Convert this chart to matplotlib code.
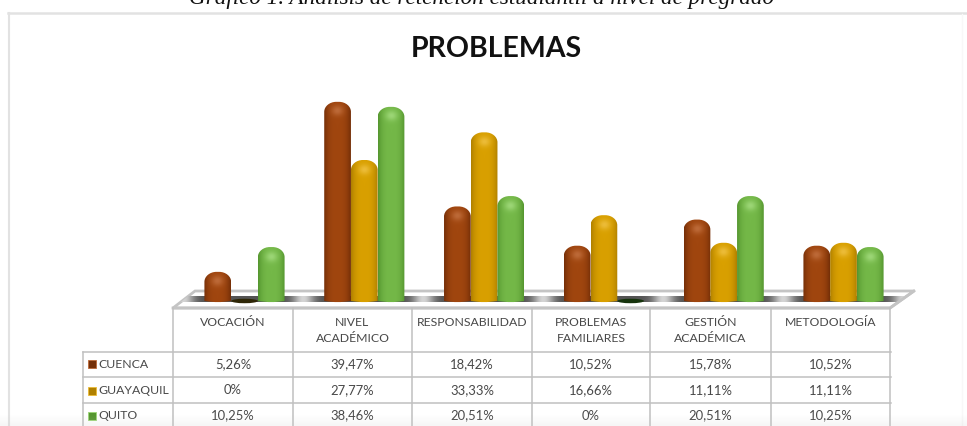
import numpy as np
import matplotlib
matplotlib.use("Agg")
import matplotlib.pyplot as plt
from matplotlib.colors import to_rgb
from matplotlib.patches import Ellipse, PathPatch, Polygon, Rectangle
from matplotlib.path import Path

plt.rcParams['font.family'] = ['Lato', 'DejaVu Sans']

categories = ["VOCACIÓN", "NIVEL\nACADÉMICO", "RESPONSABILIDAD",
              "PROBLEMAS\nFAMILIARES", "GESTIÓN\nACADÉMICA", "METODOLOGÍA"]
series_names = ["CUENCA", "GUAYAQUIL", "QUITO"]
cuenca = [5.26, 39.47, 18.42, 10.52, 15.78, 10.52]
guayaquil = [0, 27.77, 33.33, 16.66, 11.11, 11.11]
quito = [10.25, 38.46, 20.51, 0, 20.51, 10.25]

W, H = 967, 426
GRID = "#c0c0c0"
TEXT = "#484848"

# (edge, middle, highlight) of each cylinder
bar_colors = [("#752f08", "#a0460f", "#bd6a38"),
              ("#b08000", "#d9a000", "#ecbc38"),
              ("#55962f", "#74b848", "#9cd676")]
zero_colors = ["#2e2606", "#2e2606", "#16330c"]


def label(v):
    if v == 0:
        return "0%"
    return f"{v:.2f}%".replace(".", ",")


def bar_path(ax, x0, x1, top):
    # rounded top and bottom, radius given in pixels
    sy = ax.transData.transform((0, 1))[1] - ax.transData.transform((0, 0))[1]
    rx = (x1 - x0) * 0.45
    ry = 10 / sy
    low = -0.6
    ly = 1.5 / sy
    k = 0.55
    verts = [(x0, low), (x0, top - ry),
             (x0, top - ry + k * ry), (x0 + rx - k * rx, top), (x0 + rx, top),
             (x1 - rx, top),
             (x1 - rx + k * rx, top), (x1, top - ry + k * ry), (x1, top - ry),
             (x1, low),
             (x1 - rx, low - ly), (x0 + rx, low - ly), (x0, low),
             (x0, low)]
    codes = [Path.MOVETO, Path.LINETO,
             Path.CURVE4, Path.CURVE4, Path.CURVE4,
             Path.LINETO,
             Path.CURVE4, Path.CURVE4, Path.CURVE4,
             Path.LINETO,
             Path.CURVE4, Path.CURVE4, Path.CURVE4,
             Path.CLOSEPOLY]
    return Path(verts, codes)


def cylinder_image(colors, n_rows):
    # side to side shading, with a soft light spot near the top
    edge, mid, light = [np.array(to_rgb(c)) for c in colors]
    u = np.linspace(-1, 1, 40)
    t = (1 - np.abs(u) ** 3)[None, :, None]
    img = np.ones((n_rows, 40, 3)) * (edge + (mid - edge) * t)
    rows = np.arange(n_rows)[:, None]
    spot = np.exp(-((rows - 9) / 5.0) ** 2 - (u[None, :] / 0.45) ** 2)[:, :, None]
    return np.clip(img + (light - img) * spot, 0, 1)


fig = plt.figure(figsize=(W / 100, H / 100), dpi=100)

# full figure axes in pixels for frame, floor and table
ax_px = fig.add_axes([0, 0, 1, 1])
ax_px.set_xlim(0, W)
ax_px.set_ylim(H, 0)
ax_px.axis("off")

# frame
ax_px.plot([8, W], [13, 13], color="#e2e2e2", lw=1.8)
ax_px.plot([9, 9], [13, H], color="#e2e2e2", lw=1.5)
ax_px.plot([962, 962], [14, H], color="#f8f8f8", lw=1)

# caption, cut by the top edge like the source
ax_px.text(482, 4, "Gráfico 1. Análisis de retención estudiantil a nivel de pregrado",
           family="Liberation Serif", style="italic", fontsize=16.7, color="#111111",
           ha="center", va="baseline")
ax_px.text(496, 49, "PROBLEMAS", fontsize=20.5, fontweight="bold", color="#111111",
           ha="center", va="center")

# floor of the 3D chart
floor = Polygon([(173, 308), (195, 291), (914, 291), (890, 308)], closed=True,
                facecolor="white", edgecolor="#c4c4c4", lw=2, zorder=1)
ax_px.add_patch(floor)
xs = np.arange(173, 915)
# dark band with a light streak ahead of every group
shade = 0.33 + 0.5 * np.exp(-(((xs - 303 + 60) % 120 - 60) / 11.0) ** 2)
strip = ax_px.imshow(shade[None, :], extent=(173, 915, 302.5, 297), cmap="gray",
                     vmin=0, vmax=1, aspect="auto", interpolation="bilinear", zorder=2)
strip.set_clip_path(floor)
ax_px.plot([173, 890, 914], [308, 308, 291], color="#c4c4c4", lw=2, zorder=3)
ax_px.set_xlim(0, W)
ax_px.set_ylim(H, 0)

# table
col_edges = [173, 293, 412, 532, 650, 771, 890]
row_y = [308, 352, 377, 403]
for y in row_y[1:]:
    ax_px.plot([83, 891], [y, y], color=GRID, lw=1.1, zorder=3)
for x in col_edges:
    ax_px.plot([x, x], [308, H], color=GRID, lw=1.1, zorder=3)
ax_px.plot([83, 83], [352, H], color=GRID, lw=1.1, zorder=3)

for i, cat in enumerate(categories):
    xc = (col_edges[i] + col_edges[i + 1]) / 2
    ax_px.text(xc, 317, cat, fontsize=8.8, color=TEXT, ha="center", va="top",
               linespacing=1.6, zorder=4)

row_text_y = [364, 390.5, 415.5]
all_series = [cuenca, guayaquil, quito]
for r, vals in enumerate(all_series):
    ax_px.add_patch(Rectangle((88, row_text_y[r] - 4), 8, 8, facecolor=bar_colors[r][0],
                              edgecolor=bar_colors[r][2], lw=0.6, zorder=4))
    ax_px.text(98, row_text_y[r], series_names[r], fontsize=8.8, color=TEXT,
               ha="left", va="center", zorder=4)
    for i, v in enumerate(vals):
        xc = (col_edges[i] + col_edges[i + 1]) / 2
        ax_px.text(xc, row_text_y[r], label(v), fontsize=9.4, color=TEXT,
                   ha="center", va="center", zorder=4)

# bars on their own axes: category units across, percent up
PX_PER_CAT = 119.8
PX_PER_PCT = 4.97
X0_PX, Y0_PX = 244.5, 298
left_px, right_px = 172, 890
y_min, y_max = -2, 42
bottom_px = Y0_PX - y_min * PX_PER_PCT
top_px = Y0_PX - y_max * PX_PER_PCT
ax = fig.add_axes([left_px / W, 1 - bottom_px / H,
                   (right_px - left_px) / W, (bottom_px - top_px) / H])
ax.patch.set_alpha(0)
ax.axis("off")
x_lim = ((left_px - X0_PX) / PX_PER_CAT, (right_px - X0_PX) / PX_PER_CAT)
ax.set_xlim(x_lim)
ax.set_ylim(y_min, y_max)

bar_w = 0.223
for s, vals in enumerate(all_series):
    for i, v in enumerate(vals):
        xc = i + (s - 1) * bar_w
        x0, x1 = xc - bar_w / 2, xc + bar_w / 2
        if v == 0:
            ax.add_patch(Ellipse((xc, -0.6), bar_w, 0.9, facecolor=zero_colors[s],
                                 edgecolor="none", zorder=3))
            continue
        n_rows = max(int((v + 1.2) * PX_PER_PCT), 2)
        im = ax.imshow(cylinder_image(bar_colors[s], n_rows),
                       extent=(x0, x1, -1.2, v), origin="upper", aspect="auto",
                       interpolation="bilinear", zorder=3 + s * 0.1)
        clip = PathPatch(bar_path(ax, x0, x1, v), transform=ax.transData,
                         facecolor="none", edgecolor="none")
        ax.add_patch(clip)
        im.set_clip_path(clip)
ax.set_xlim(x_lim)
ax.set_ylim(y_min, y_max)

# grey fade at the bottom edge of the screenshot
fade = np.linspace(1, 0.82, 12)[:, None]
ax_px.imshow(np.dstack([np.ones((12, 1, 3)) * 0.8, 1 - fade]), extent=(0, W, H, H - 12),
             aspect="auto", zorder=5)
ax_px.set_xlim(0, W)
ax_px.set_ylim(H, 0)

fig.savefig("out.png", dpi=100)
